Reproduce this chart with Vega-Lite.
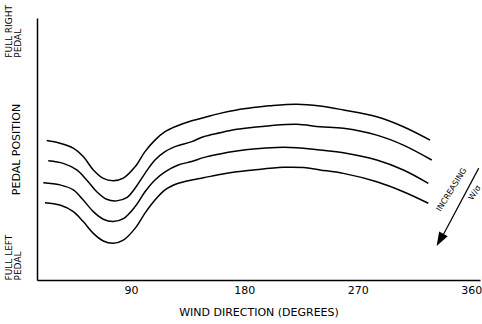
{
  "$schema": "https://vega.github.io/schema/vega-lite/v6.json",
  "width": 443,
  "height": 262,
  "autosize": {"type": "none"},
  "padding": {"left": 37, "top": 18, "right": 2, "bottom": 44},
  "background": "white",
  "config": {"view": {"stroke": null}, "font": "DejaVu Sans"},
  "datasets": {
    "curves": [
      {"curve": "A", "deg": 23.2, "pos": 53.2},
      {"curve": "A", "deg": 33.7, "pos": 52.2},
      {"curve": "A", "deg": 44.3, "pos": 50.3},
      {"curve": "A", "deg": 52.2, "pos": 47.1},
      {"curve": "A", "deg": 60.2, "pos": 42.0},
      {"curve": "A", "deg": 68.1, "pos": 38.8},
      {"curve": "A", "deg": 76.0, "pos": 37.9},
      {"curve": "A", "deg": 84.0, "pos": 38.9},
      {"curve": "A", "deg": 93.3, "pos": 43.2},
      {"curve": "A", "deg": 101.2, "pos": 49.0},
      {"curve": "A", "deg": 109.1, "pos": 53.4},
      {"curve": "A", "deg": 117.1, "pos": 56.6},
      {"curve": "A", "deg": 125.0, "pos": 58.5},
      {"curve": "A", "deg": 138.3, "pos": 60.8},
      {"curve": "A", "deg": 147.5, "pos": 61.9},
      {"curve": "A", "deg": 160.7, "pos": 63.6},
      {"curve": "A", "deg": 174.0, "pos": 64.9},
      {"curve": "A", "deg": 187.1, "pos": 65.8},
      {"curve": "A", "deg": 200.4, "pos": 66.5},
      {"curve": "A", "deg": 221.6, "pos": 67.1},
      {"curve": "A", "deg": 240.1, "pos": 66.4},
      {"curve": "A", "deg": 258.6, "pos": 64.9},
      {"curve": "A", "deg": 285.1, "pos": 62.3},
      {"curve": "A", "deg": 306.2, "pos": 58.5},
      {"curve": "A", "deg": 327.4, "pos": 53.4},
      {"curve": "B", "deg": 24.4, "pos": 45.5},
      {"curve": "B", "deg": 36.3, "pos": 44.5},
      {"curve": "B", "deg": 47.0, "pos": 42.0},
      {"curve": "B", "deg": 54.9, "pos": 38.2},
      {"curve": "B", "deg": 62.9, "pos": 33.7},
      {"curve": "B", "deg": 70.8, "pos": 30.8},
      {"curve": "B", "deg": 78.7, "pos": 30.2},
      {"curve": "B", "deg": 86.7, "pos": 31.4},
      {"curve": "B", "deg": 93.3, "pos": 35.0},
      {"curve": "B", "deg": 101.2, "pos": 40.7},
      {"curve": "B", "deg": 109.1, "pos": 45.8},
      {"curve": "B", "deg": 117.1, "pos": 49.0},
      {"curve": "B", "deg": 125.0, "pos": 50.9},
      {"curve": "B", "deg": 138.3, "pos": 52.8},
      {"curve": "B", "deg": 147.5, "pos": 54.7},
      {"curve": "B", "deg": 160.7, "pos": 56.2},
      {"curve": "B", "deg": 174.0, "pos": 57.5},
      {"curve": "B", "deg": 187.1, "pos": 58.3},
      {"curve": "B", "deg": 200.4, "pos": 58.9},
      {"curve": "B", "deg": 221.6, "pos": 59.4},
      {"curve": "B", "deg": 240.1, "pos": 58.5},
      {"curve": "B", "deg": 258.6, "pos": 57.9},
      {"curve": "B", "deg": 285.1, "pos": 55.3},
      {"curve": "B", "deg": 306.2, "pos": 51.5},
      {"curve": "B", "deg": 328.7, "pos": 45.8},
      {"curve": "C", "deg": 20.5, "pos": 37.1},
      {"curve": "C", "deg": 33.7, "pos": 36.3},
      {"curve": "C", "deg": 44.3, "pos": 34.4},
      {"curve": "C", "deg": 52.2, "pos": 30.5},
      {"curve": "C", "deg": 60.2, "pos": 26.1},
      {"curve": "C", "deg": 68.1, "pos": 23.2},
      {"curve": "C", "deg": 76.0, "pos": 22.3},
      {"curve": "C", "deg": 84.0, "pos": 23.4},
      {"curve": "C", "deg": 93.3, "pos": 28.0},
      {"curve": "C", "deg": 101.2, "pos": 33.7},
      {"curve": "C", "deg": 109.1, "pos": 38.2},
      {"curve": "C", "deg": 117.1, "pos": 41.3},
      {"curve": "C", "deg": 127.6, "pos": 43.9},
      {"curve": "C", "deg": 138.3, "pos": 45.2},
      {"curve": "C", "deg": 147.5, "pos": 46.7},
      {"curve": "C", "deg": 160.7, "pos": 48.1},
      {"curve": "C", "deg": 174.0, "pos": 49.2},
      {"curve": "C", "deg": 187.1, "pos": 50.0},
      {"curve": "C", "deg": 205.7, "pos": 50.6},
      {"curve": "C", "deg": 221.6, "pos": 50.5},
      {"curve": "C", "deg": 240.1, "pos": 49.6},
      {"curve": "C", "deg": 258.6, "pos": 48.6},
      {"curve": "C", "deg": 285.1, "pos": 45.8},
      {"curve": "C", "deg": 306.2, "pos": 42.0},
      {"curve": "C", "deg": 326.0, "pos": 36.9},
      {"curve": "D", "deg": 21.8, "pos": 29.5},
      {"curve": "D", "deg": 33.7, "pos": 28.6},
      {"curve": "D", "deg": 44.3, "pos": 26.1},
      {"curve": "D", "deg": 52.2, "pos": 22.3},
      {"curve": "D", "deg": 60.2, "pos": 17.8},
      {"curve": "D", "deg": 68.1, "pos": 14.9},
      {"curve": "D", "deg": 76.0, "pos": 14.0},
      {"curve": "D", "deg": 84.0, "pos": 15.2},
      {"curve": "D", "deg": 93.3, "pos": 19.7},
      {"curve": "D", "deg": 101.2, "pos": 25.5},
      {"curve": "D", "deg": 109.1, "pos": 30.5},
      {"curve": "D", "deg": 117.1, "pos": 34.4},
      {"curve": "D", "deg": 127.6, "pos": 36.9},
      {"curve": "D", "deg": 138.3, "pos": 38.2},
      {"curve": "D", "deg": 147.5, "pos": 39.0},
      {"curve": "D", "deg": 160.7, "pos": 40.3},
      {"curve": "D", "deg": 174.0, "pos": 41.3},
      {"curve": "D", "deg": 187.1, "pos": 42.0},
      {"curve": "D", "deg": 210.9, "pos": 43.0},
      {"curve": "D", "deg": 226.8, "pos": 42.9},
      {"curve": "D", "deg": 240.1, "pos": 42.0},
      {"curve": "D", "deg": 258.6, "pos": 40.7},
      {"curve": "D", "deg": 285.1, "pos": 37.5},
      {"curve": "D", "deg": 306.2, "pos": 33.7},
      {"curve": "D", "deg": 326.0, "pos": 29.3}
    ],
    "arrow": [
      {"deg": 366.0, "pos": 42.7, "deg2": 336.9, "pos2": 16.4}
    ],
    "arrowhead": [
      {"deg": 335.3, "pos": 15.3}
    ],
    "notes": [
      {"deg": 344.8, "pos": 34.4, "label": "INCREASING"},
      {"deg": 363.1, "pos": 33.2, "label": "W/σ"}
    ]
  },
  "layer": [
    {
      "data": {"name": "curves"},
      "mark": {"type": "line", "interpolate": "catmull-rom", "strokeWidth": 1.5, "color": "black"},
      "encoding": {
        "x": {
          "field": "deg", "type": "quantitative",
          "scale": {"domain": [15.5, 367], "nice": false, "zero": false},
          "axis": {
            "values": [90, 180, 270, 360], "ticks": false, "grid": false,
            "domainColor": "black", "domainWidth": 1.5,
            "labelFontSize": 11, "labelColor": "black", "labelPadding": 4, "labelFlush": false,
            "title": "WIND DIRECTION (DEGREES)", "titleFontSize": 11, "titleFontWeight": "normal",
            "titleColor": "black", "titlePadding": 11
          }
        },
        "y": {
          "field": "pos", "type": "quantitative",
          "scale": {"domain": [0, 100], "nice": false},
          "axis": {
            "values": [0, 85], "ticks": false, "grid": false,
            "domainColor": "black", "domainWidth": 1.5,
            "labelExpr": "datum.value == 0 ? ['FULL LEFT', 'PEDAL'] : ['FULL RIGHT', 'PEDAL']",
            "labelAngle": 270, "labelAlign": "left", "labelBaseline": "bottom",
            "labelFontSize": 9, "labelLineHeight": 9.5, "labelPadding": 24, "labelFlush": false,
            "labelColor": "black",
            "title": "PEDAL POSITION", "titleFontSize": 11, "titleFontWeight": "normal",
            "titleColor": "black", "titlePadding": -17
          }
        },
        "detail": {"field": "curve"}
      }
    },
    {
      "data": {"name": "arrow"},
      "mark": {"type": "rule", "color": "black", "strokeWidth": 1.2},
      "encoding": {
        "x": {"field": "deg", "type": "quantitative"},
        "y": {"field": "pos", "type": "quantitative"},
        "x2": {"field": "deg2"},
        "y2": {"field": "pos2"}
      }
    },
    {
      "data": {"name": "arrowhead"},
      "mark": {"type": "point", "shape": "M-0.7,-1L0.7,-1L0,1Z", "filled": true, "color": "black", "opacity": 1, "size": 196, "angle": 29},
      "encoding": {
        "x": {"field": "deg", "type": "quantitative"},
        "y": {"field": "pos", "type": "quantitative"}
      }
    },
    {
      "data": {"name": "notes"},
      "mark": {"type": "text", "angle": -58, "fontSize": 8, "color": "black", "align": "center", "baseline": "middle"},
      "encoding": {
        "x": {"field": "deg", "type": "quantitative"},
        "y": {"field": "pos", "type": "quantitative"},
        "text": {"field": "label"}
      }
    }
  ]
}
